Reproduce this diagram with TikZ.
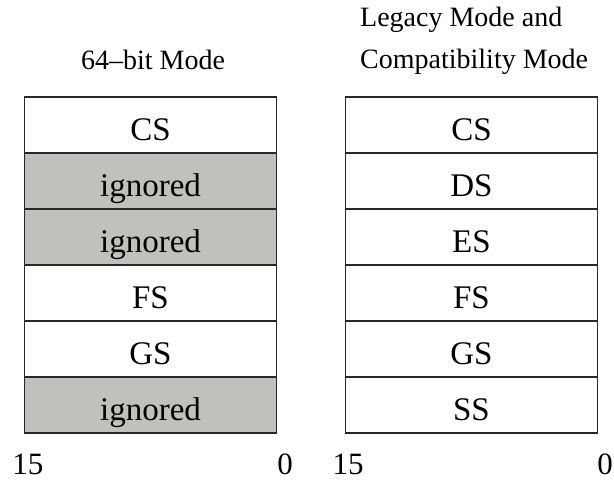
\documentclass[tikz,border=0pt]{standalone}
\usepackage{fontspec}
\setmainfont{Liberation Serif}
\definecolor{ignfill}{RGB}{190,194,187}
\definecolor{edge}{RGB}{40,40,40}
\begin{document}
\begin{tikzpicture}[x=1pt,y=-1pt,
  cell/.style={draw=edge,line width=1.2pt,minimum width=252pt,minimum height=56pt,
    inner sep=0pt,text height=30pt,text depth=0pt,font=\fontsize{33}{36}\selectfont},
  ignc/.style={cell,fill=ignfill},
  head/.style={font=\fontsize{28}{34}\selectfont,inner sep=0pt},
  bitnum/.style={font=\fontsize{31}{34}\selectfont,inner sep=0pt,anchor=base}]
\useasboundingbox (0,0) rectangle (614,482);
% left column
\node[cell] (l1) at (150.5,125) {CS};
\node[ignc] (l2) at (150.5,181) {ignored};
\node[ignc] (l3) at (150.5,237) {ignored};
\node[cell] (l4) at (150.5,293) {FS};
\node[cell] (l5) at (150.5,349) {GS};
\node[ignc] (l6) at (150.5,405) {ignored};
% right column
\node[cell] (r1) at (471.5,125) {CS};
\node[cell] (r2) at (471.5,181) {DS};
\node[cell] (r3) at (471.5,237) {ES};
\node[cell] (r4) at (471.5,293) {FS};
\node[cell] (r5) at (471.5,349) {GS};
\node[cell] (r6) at (471.5,405) {SS};
% headings
\node[head,anchor=base] (h64) at (153,69) {64--bit Mode};
\node[head,anchor=base west] (hl1) at (360,26) {Legacy Mode and};
\node[head,anchor=base west] (hl2) at (360,68) {Compatibility Mode};
% bit numbers
\node[bitnum] (b1) at (28,474) {15};
\node[bitnum] (b2) at (285,474) {0};
\node[bitnum] (b3) at (348,474) {15};
\node[bitnum] (b4) at (605,474) {0};
\end{tikzpicture}
\end{document}
